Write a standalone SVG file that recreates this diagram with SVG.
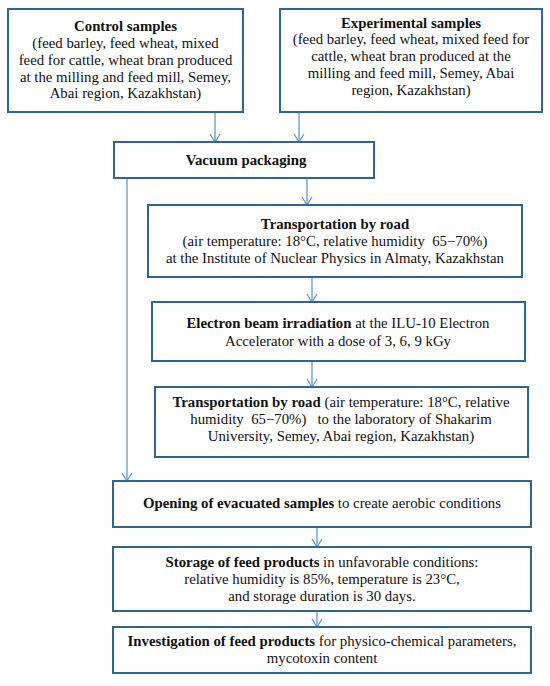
<svg xmlns="http://www.w3.org/2000/svg" width="550" height="686" viewBox="0 0 550 686">
<defs>
<style>
.box{fill:#fff;stroke:#2F6592;stroke-width:2}
.t{font-family:"Liberation Serif","Times New Roman",serif;font-size:14.8px;fill:#111;text-anchor:middle}
.b{font-weight:bold}
.c{fill:none;stroke:#5B9BD5;stroke-width:1.3}
</style>
<marker id="ah" viewBox="0 0 10 12" refX="9" refY="6" markerWidth="10" markerHeight="12" markerUnits="userSpaceOnUse" orient="auto">
<path d="M1,1 L9,6 L1,11" fill="none" stroke="#5B9BD5" stroke-width="1.3"/>
</marker>
</defs>
<rect width="550" height="686" fill="#fff"/>
<g id="connectors">
<path class="c" d="M215,112 V142" marker-end="url(#ah)"/>
<path class="c" d="M299,112 V142" marker-end="url(#ah)"/>
<path class="c" d="M307,178 V205" marker-end="url(#ah)"/>
<path class="c" d="M312,277 V302" marker-end="url(#ah)"/>
<path class="c" d="M312,361 V387" marker-end="url(#ah)"/>
<path class="c" d="M127,178 V481" marker-end="url(#ah)"/>
<path class="c" d="M317,527 V547" marker-end="url(#ah)"/>
<path class="c" d="M317,611 V627" marker-end="url(#ah)"/>
</g>
<g id="control">
<rect class="box" x="8" y="9" width="235" height="103"/>
<text class="t" x="125.5" y="31"><tspan class="b">Control samples</tspan></text>
<text class="t" x="125.5" y="48">(feed barley, feed wheat, mixed</text>
<text class="t" x="125.5" y="64.5">feed for cattle, wheat bran produced</text>
<text class="t" x="125.5" y="81.5">at the milling and feed mill, Semey,</text>
<text class="t" x="125.5" y="98">Abai region, Kazakhstan)</text>
</g>
<g id="experimental">
<rect class="box" x="280" y="9" width="262" height="103"/>
<text class="t" x="411" y="27.5"><tspan class="b">Experimental samples</tspan></text>
<text class="t" x="411" y="44">(feed barley, feed wheat, mixed feed for</text>
<text class="t" x="411" y="61">cattle, wheat bran produced at the</text>
<text class="t" x="411" y="78">milling and feed mill, Semey, Abai</text>
<text class="t" x="411" y="94.5">region, Kazakhstan)</text>
</g>
<g id="vacuum">
<rect class="box" x="114" y="142" width="260" height="36"/>
<text class="t" x="246" y="165"><tspan class="b">Vacuum packaging</tspan></text>
</g>
<g id="transport1">
<rect class="box" x="148" y="205" width="374" height="72"/>
<text class="t" x="335" y="229"><tspan class="b">Transportation by road</tspan></text>
<text class="t" x="335" y="246" xml:space="preserve">(air temperature: 18°C, relative humidity  65−70%)</text>
<text class="t" x="335" y="263">at the Institute of Nuclear Physics in Almaty, Kazakhstan</text>
</g>
<g id="irradiation">
<rect class="box" x="152" y="302" width="373" height="59"/>
<text class="t" x="338" y="328"><tspan class="b">Electron beam irradiation</tspan> at the ILU-10 Electron</text>
<text class="t" x="338" y="346">Accelerator with a dose of 3, 6, 9 kGy</text>
</g>
<g id="transport2">
<rect class="box" x="155" y="387" width="373" height="70"/>
<text class="t" x="341" y="407"><tspan class="b">Transportation by road</tspan> (air temperature: 18°C, relative</text>
<text class="t" x="341" y="424" xml:space="preserve">humidity  65−70%)   to the laboratory of Shakarim</text>
<text class="t" x="341" y="441">University, Semey, Abai region, Kazakhstan)</text>
</g>
<g id="opening">
<rect class="box" x="113" y="481" width="418" height="46"/>
<text class="t" x="322" y="508"><tspan class="b">Opening of evacuated samples</tspan> to create aerobic conditions</text>
</g>
<g id="storage">
<rect class="box" x="113" y="547" width="418" height="64"/>
<text class="t" x="322" y="567"><tspan class="b">Storage of feed products</tspan> in unfavorable conditions:</text>
<text class="t" x="322" y="584">relative humidity is 85%, temperature is 23°C,</text>
<text class="t" x="322" y="601">and storage duration is 30 days.</text>
</g>
<g id="investigation">
<rect class="box" x="113" y="627" width="418" height="46"/>
<text class="t" x="322" y="646"><tspan class="b">Investigation of feed products</tspan> for physico-chemical parameters,</text>
<text class="t" x="322" y="663">mycotoxin content</text>
</g>
</svg>
